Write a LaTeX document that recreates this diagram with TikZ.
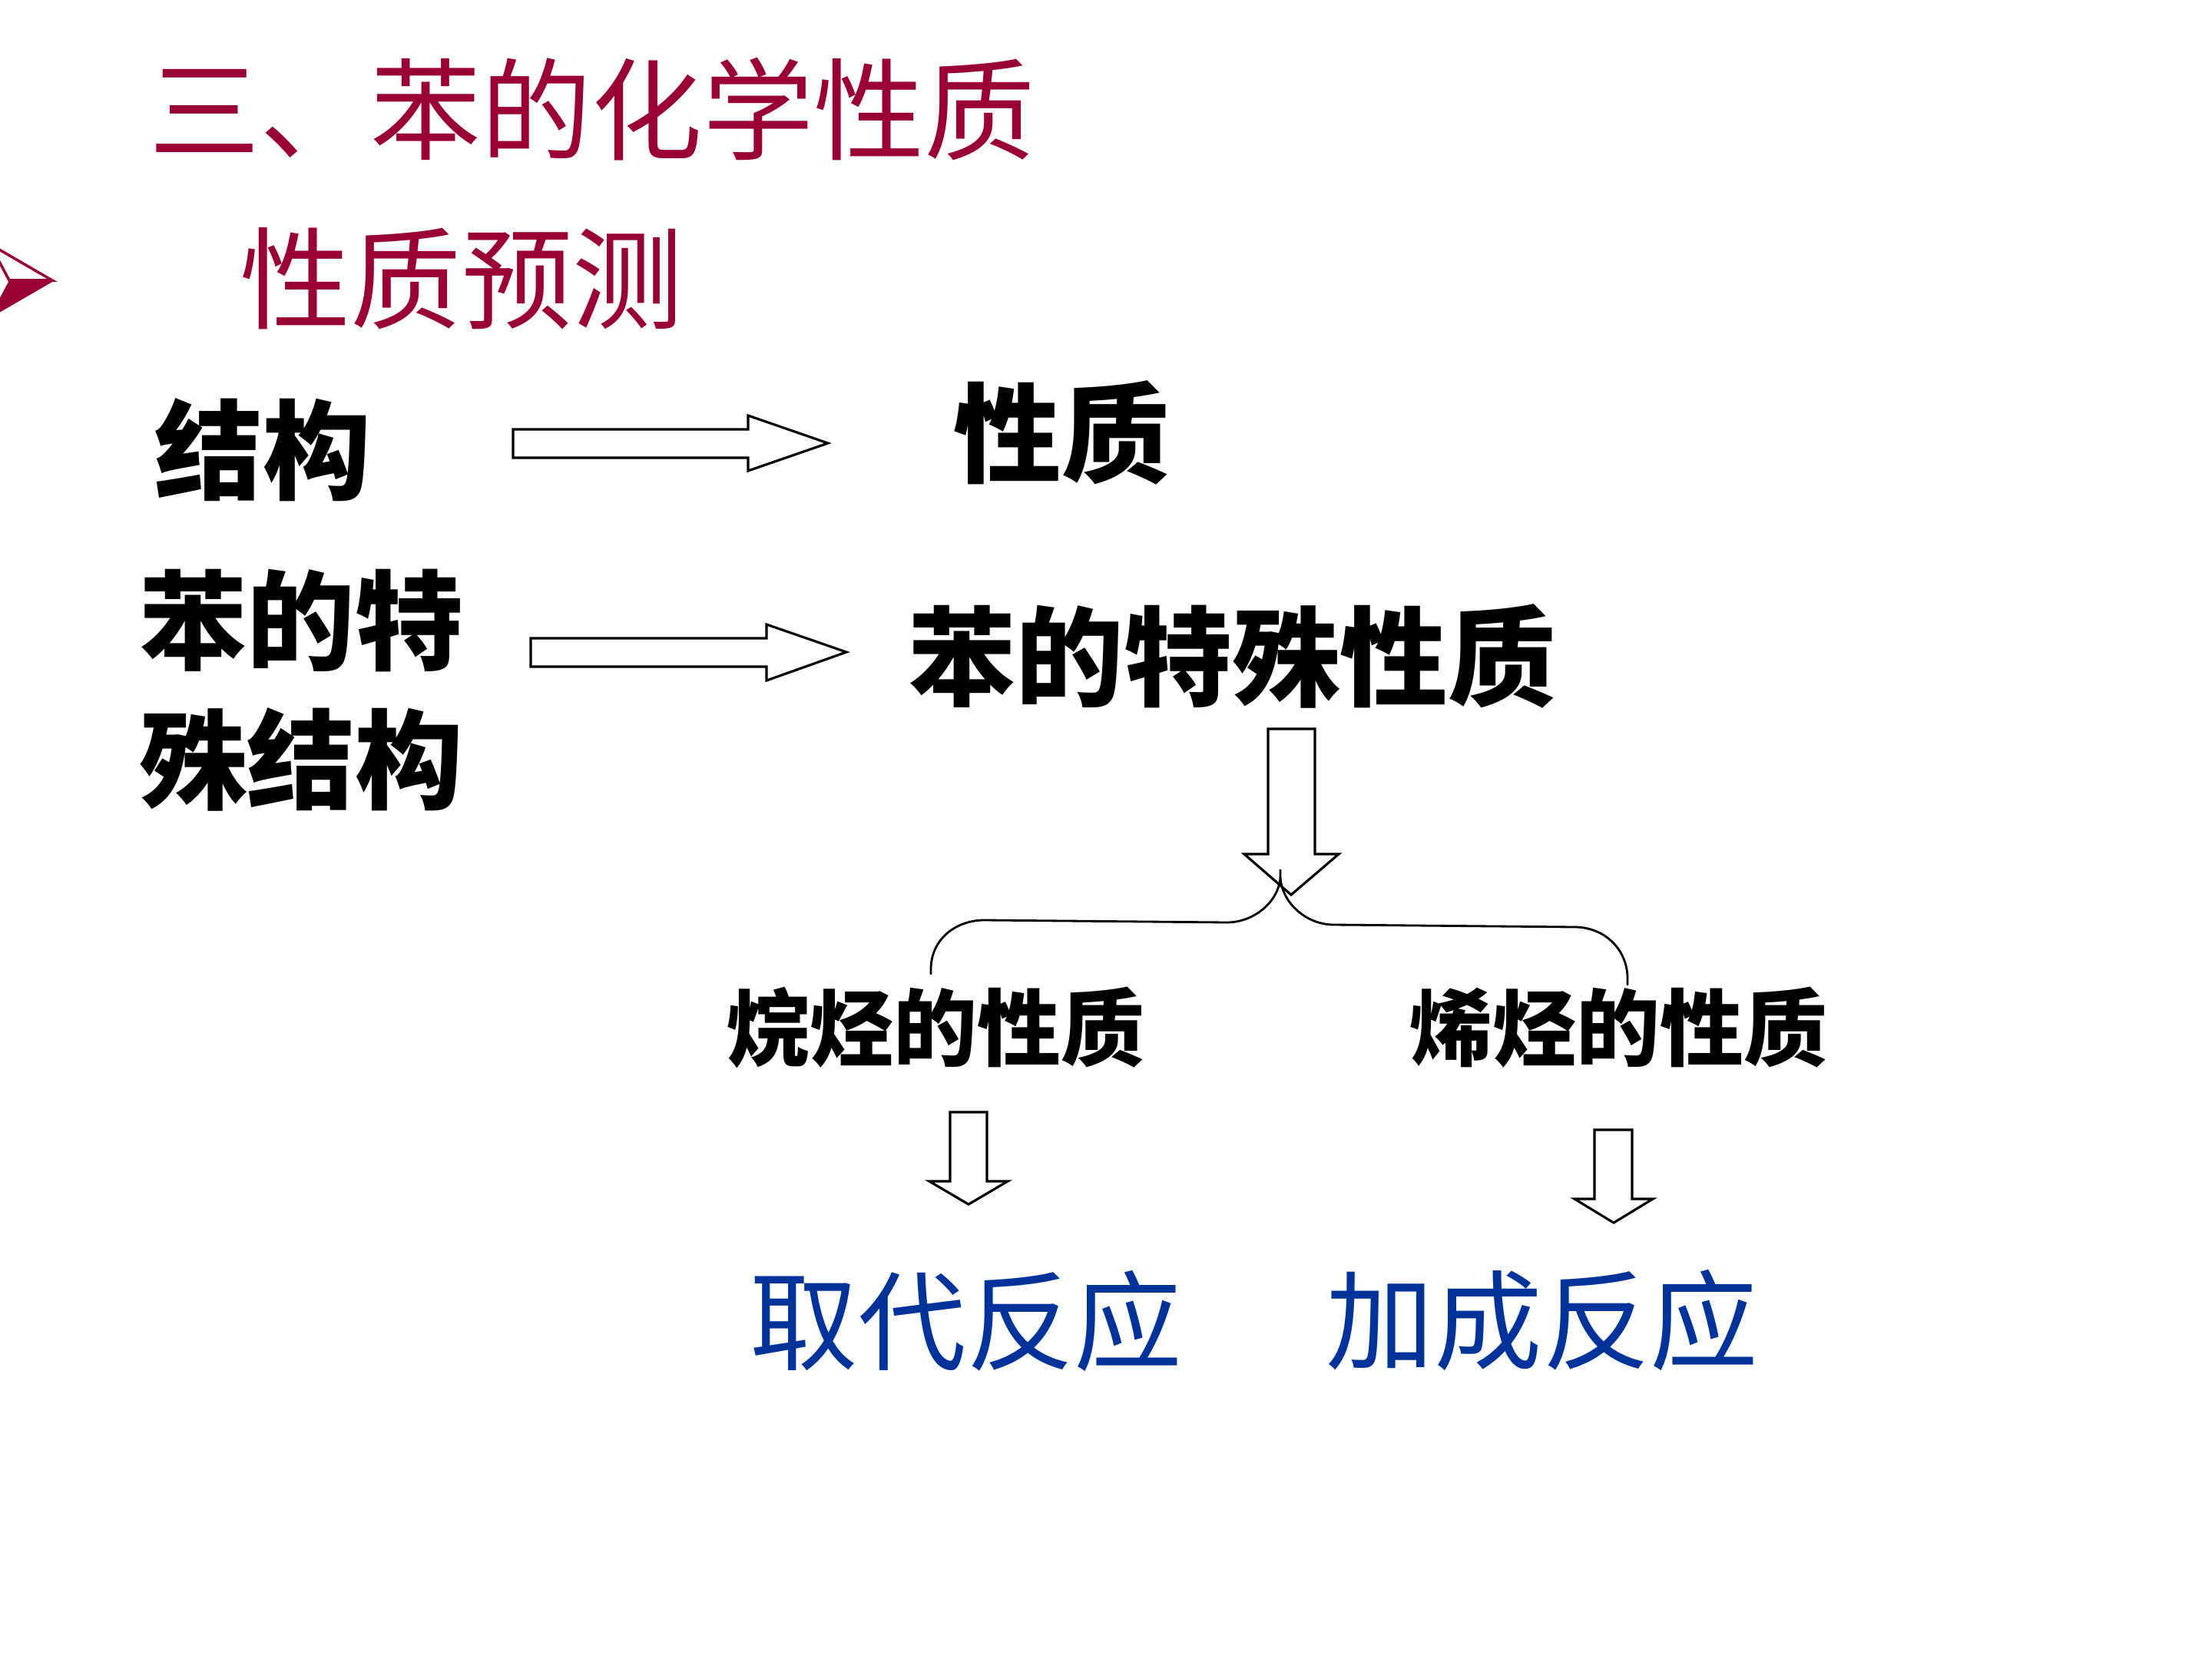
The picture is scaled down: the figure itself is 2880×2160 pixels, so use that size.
\documentclass[tikz,border=0pt]{standalone}
\usepackage{fontspec}
\newfontfamily\cjk{Noto Sans CJK SC}
\definecolor{titlered}{RGB}{153,0,51}
\definecolor{reactblue}{RGB}{0,51,153}
\tikzset{
  txt/.style={inner sep=0pt, anchor=center},
  bigblack/.style={txt, font=\cjk\bfseries\fontsize{40}{48}\selectfont, text=black},
  smallblack/.style={txt, font=\cjk\bfseries\fontsize{31}{38}\selectfont, text=black},
  bluetxt/.style={txt, font=\cjk\fontsize{40}{48}\selectfont, text=reactblue},
  redtxt/.style={txt, font=\cjk\fontsize{41}{49}\selectfont, text=titlered},
  blockarrow/.style={draw=black, line width=0.9pt, line join=miter},
  bracepath/.style={draw=black, line width=0.8pt, line cap=round}
}
\begin{document}
\begin{tikzpicture}[x=0.01cm, y=-0.01cm]
\useasboundingbox (0,0) rectangle (2880,2160);
\fill[white] (0,0) rectangle (2880,2160);
\begin{scope}
\clip (0,0) rectangle (2880,2160);
% bullet arrowhead
\fill[titlered] (68,365) -- (12,365) -- (-13,412) -- cycle;
\draw[titlered, line width=1pt, line join=miter] (68,365) -- (-13,318) -- (12,365) -- cycle;
\draw[titlered, line width=1pt, line join=miter] (68,365) -- (-13,412);
\end{scope}

% texts
\node[redtxt] (title) at (771,142) {三、苯的化学性质};
\node[redtxt] (predict) at (601,363) {性质预测};
\node[bigblack] (struct) at (342,586) {结构};
\node[bigblack] (prop) at (1382,563) {性质};
\node[bigblack] (bstruct1) at (392,808) {苯的特};
\node[bigblack] (bstruct2) at (392,989) {殊结构};
\node[bigblack] (bprop) at (1604,854) {苯的特殊性质};
\node[smallblack] (alkane) at (1218,1338) {烷烃的性质};
\node[smallblack] (alkene) at (2107,1338) {烯烃的性质};
\node[bluetxt] (subst) at (1258,1720) {取代反应};
\node[bluetxt] (addit) at (2008,1719) {加成反应};

% right block arrows
\draw[blockarrow] (668,559) -- (974,559) -- (974,541) -- (1078,577) -- (974,613) -- (974,596) -- (668,596) -- cycle;
\draw[blockarrow] (691,831) -- (998,831) -- (998,813) -- (1102,849) -- (998,886) -- (998,868) -- (691,868) -- cycle;

% big down arrow
\draw[blockarrow] (1651,949) -- (1712,949) -- (1712,1112) -- (1743,1112) -- (1681,1165) -- (1620,1112) -- (1651,1112) -- cycle;

% brace
\draw[bracepath] (1212,1268) -- (1212,1262)
  .. controls (1212,1224) and (1243,1198) .. (1282,1198)
  -- (1597,1201)
  .. controls (1636,1201) and (1667,1170) .. (1667,1140)
  -- (1667,1132) -- (1667,1140)
  .. controls (1667,1172) and (1698,1204) .. (1737,1204)
  -- (2050,1207)
  .. controls (2089,1207) and (2119,1236) .. (2119,1274) -- (2119,1282);

% small down arrows
\draw[blockarrow] (1237,1448) -- (1285,1448) -- (1285,1538) -- (1312,1538) -- (1261,1568) -- (1210,1538) -- (1237,1538) -- cycle;
\draw[blockarrow] (2076,1471) -- (2125,1471) -- (2125,1561) -- (2152,1561) -- (2101,1592) -- (2050,1561) -- (2076,1561) -- cycle;
\end{tikzpicture}
\end{document}
